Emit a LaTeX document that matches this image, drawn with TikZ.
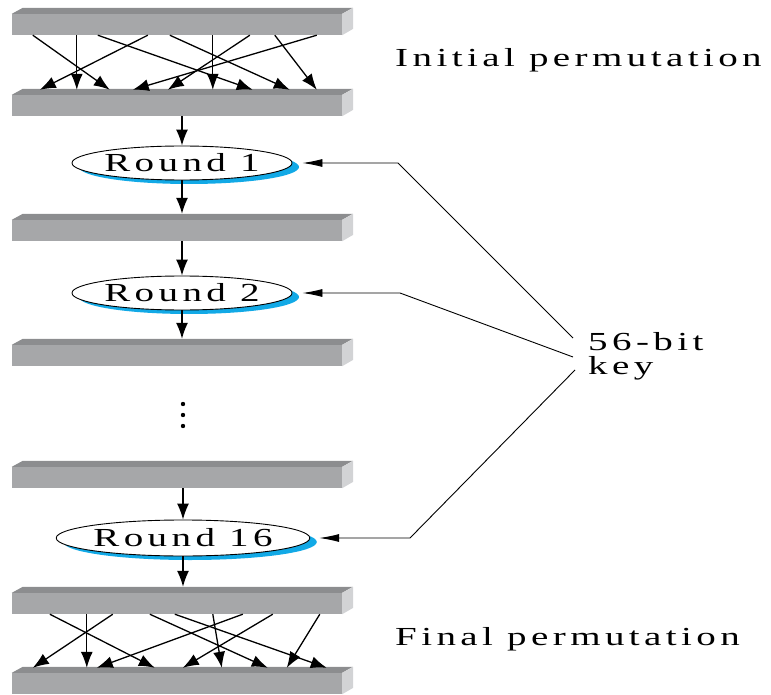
\documentclass[tikz,border=0pt]{standalone}
\usepackage{fontspec}
\setmainfont[FakeStretch=1.5,LetterSpace=17]{Liberation Serif}
\usetikzlibrary{arrows.meta,shapes.geometric,shadows}
\definecolor{barfront}{HTML}{A6A7A9}
\definecolor{bartop}{HTML}{8C8D8F}
\definecolor{barside}{HTML}{D2D3D5}
\definecolor{keyblue}{HTML}{12A9E6}
\newcommand{\w}{330pt}

% one bar: front face as a node, top and side faces drawn from its corners
\newcommand{\permbar}[2]{%
    \node[bar] (#1) at (177,#2+10.5) {};
    \fill[bartop] (#1.north west) -- ++(11pt,6pt) -- ++(\w,0pt) -- (#1.north east) -- cycle;
    \fill[barside] (#1.north east) -- ++(11pt,6pt) -- ++(0pt,-21pt) -- (#1.south east) -- cycle;
}

\begin{document}
\begin{tikzpicture}[x=1pt, y=-1pt,
    bar/.style={rectangle, fill=barfront, minimum width=\w, minimum height=21pt, inner sep=0pt},
    txt/.style={font=\fontsize{26}{24}\selectfont, inner sep=0pt},
    round/.style={txt, ellipse, draw, fill=white, line width=0.9pt, minimum width=220pt, minimum height=34pt,
        drop shadow={shadow xshift=7pt, shadow yshift=-4pt, fill=keyblue, opacity=1}},
    flow/.style={line width=1.3pt, -{Latex[length=16pt,width=12pt]}},
    keyline/.style={line width=0.9pt, -{Latex[length=20pt,width=8pt]}}]

    \useasboundingbox (0,0) rectangle (771,695);

    % Bars
    \permbar{ip1}{14}
    \permbar{ip2}{95}
    \permbar{b1}{220}
    \permbar{b2}{345}
    \permbar{b15}{467}
    \permbar{fp1}{593}
    \permbar{fp2}{673}

    % Rounds
    \node[round] (rd1) at (182,163) {Round 1};
    \node[round] (rd2) at (182,293) {Round 2};
    \node[round, minimum width=253pt, minimum height=36pt] (rd16) at (183,538) {Round 16};

    % Dots
    \foreach \y in {404,415,426}
        \fill (183,\y) circle (2.2pt);

    % Initial permutation
    \foreach \src/\dst in {21/98, 65/65, 86/241, 136/28, 158/278, 201/201, 238/156, 263/305, 305/121}
        \draw[flow] ([xshift=\src pt]ip1.south west) -- ([xshift=\dst pt, yshift=5pt]ip2.north west);

    % Final permutation
    \foreach \src/\dst in {38/143, 75/75, 101/21, 138/256, 163/315, 201/210, 231/85, 261/171, 308/275}
        \draw[flow] ([xshift=\src pt]fp1.south west) -- ([xshift=\dst pt, yshift=5pt]fp2.north west);

    % Data path
    \draw[flow] (ip2.south -| rd1.north) -- (rd1.north);
    \draw[flow] (rd1.south) -- ([yshift=6pt]b1.north -| rd1.south);
    \draw[flow] (b1.south -| rd2.north) -- (rd2.north);
    \draw[flow] (rd2.south) -- ([yshift=6pt]b2.north -| rd2.south);
    \draw[flow] (b15.south -| rd16.north) -- (rd16.north);
    \draw[flow] (rd16.south) -- ([yshift=6pt]fp1.north -| rd16.south);

    % Key
    \node[txt, align=left, anchor=west] (key) at (588,356) {56-bit\\key};
    \coordinate (k1) at (573,338);
    \coordinate (k2) at (573,357);
    \coordinate (k3) at (575,370);
    \draw[keyline] (k1) -- (rd1.east -| 398,0) -- ([xshift=10pt]rd1.east);
    \draw[keyline] (k2) -- (rd2.east -| 400,0) -- ([xshift=10pt]rd2.east);
    \draw[keyline] (k3) -- (rd16.east -| 410,0) -- ([xshift=9pt]rd16.east);

    % Labels
    \node[txt, anchor=base west] (ipl) at (395,67) {Initial permutation};
    \node[txt, anchor=base west] (fpl) at (395,645) {Final permutation};

\end{tikzpicture}
\end{document}
